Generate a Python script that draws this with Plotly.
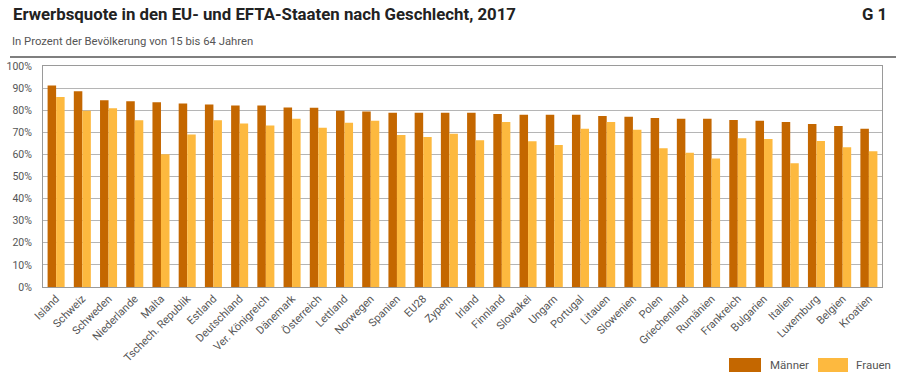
import plotly.graph_objects as go

countries = ["Island", "Schweiz", "Schweden", "Niederlande", "Malta", "Tschech. Republik",
             "Estland", "Deutschland", "Ver. Königreich", "Dänemark", "Österreich", "Lettland",
             "Norwegen", "Spanien", "EU28", "Zypern", "Irland", "Finnland", "Slowakei", "Ungarn",
             "Portugal", "Litauen", "Slowenien", "Polen", "Griechenland", "Rumänien", "Frankreich",
             "Bulgarien", "Italien", "Luxemburg", "Belgien", "Kroatien"]
maenner = [91.2, 88.6, 84.5, 84.1, 83.6, 83.0, 82.6, 82.1, 82.1, 81.2, 81.1, 79.7,
           79.4, 78.8, 78.8, 78.8, 78.8, 78.3, 77.9, 77.9, 77.9, 77.4, 77.0, 76.5,
           76.1, 76.1, 75.6, 75.2, 74.7, 73.8, 72.9, 71.6]
frauen = [86.0, 79.8, 80.9, 75.5, 60.1, 69.0, 75.5, 74.0, 73.1, 76.1, 72.1, 74.3,
          75.2, 68.8, 67.9, 69.4, 66.4, 74.7, 65.9, 64.3, 71.6, 74.7, 71.1, 62.8,
          60.7, 58.1, 67.3, 67.0, 56.0, 66.1, 63.2, 61.4]
y_ticks = [0, 10, 20, 30, 40, 50, 60, 70, 80, 90, 100]
y_labels = [f"{v}%" for v in y_ticks]

C_M = "#C46700"
C_F = "#FDB93F"
FONT = "Roboto"

fig = go.Figure()
fig.add_trace(go.Bar(x=countries, y=maenner, name="Männer", marker_color=C_M, marker_line_width=0))
fig.add_trace(go.Bar(x=countries, y=frauen, name="Frauen", marker_color=C_F, marker_line_width=0))

fig.update_layout(
    width=900, height=374,
    margin=dict(l=43, r=18, t=66, b=87),
    paper_bgcolor="white", plot_bgcolor="white",
    barmode="group", bargap=0.35, bargroupgap=0,
    showlegend=False,
    font=dict(family=FONT, size=10, color="#555555"),
    xaxis=dict(tickangle=-45, tickfont=dict(size=11, color="#555555"), showline=True,
               linecolor="#9a9a9a", linewidth=1, mirror=True, ticks="", automargin=False),
    yaxis=dict(range=[0, 100], tickvals=y_ticks, ticktext=y_labels, showgrid=True,
               gridcolor="#b5b5b5", gridwidth=1, showline=True, linecolor="#9a9a9a",
               linewidth=1, mirror=True, ticks="", tickfont=dict(size=10.5, color="#555555"),
               ticklabelstandoff=8, zeroline=False, automargin=False),
)

def yp(py):
    return (287 - py) / 221

def xp(px):
    return (px - 43) / 839

fig.add_annotation(text="<b>Erwerbsquote in den EU- und EFTA-Staaten nach Geschlecht, 2017</b>",
                   xref="paper", yref="paper", x=xp(11), y=yp(14),
                   xanchor="left", yanchor="middle", showarrow=False,
                   font=dict(family=FONT, size=16.8, color="#222222"))
fig.add_annotation(text="<b>G 1</b>", xref="paper", yref="paper", x=xp(889),
                   y=yp(14), xanchor="right", yanchor="middle", showarrow=False,
                   font=dict(family=FONT, size=16.8, color="#222222"))
fig.add_annotation(text="In Prozent der Bevölkerung von 15 bis 64 Jahren", xref="paper", yref="paper",
                   x=xp(10), y=yp(42), xanchor="left", yanchor="middle",
                   showarrow=False, font=dict(family=FONT, size=11.3, color="#555555"))
# header rule
fig.add_shape(type="line", xref="paper", yref="paper", x0=xp(10), x1=xp(896),
              y0=yp(57), y1=yp(57), line=dict(color="#555555", width=1.5))

# legend swatches
for (x0, x1, tx, label, col) in [(729, 761, 768, "Männer", C_M), (818, 848, 854, "Frauen", C_F)]:
    fig.add_shape(type="rect", xref="paper", yref="paper", x0=xp(x0), x1=xp(x1),
                  y0=yp(372), y1=yp(358), fillcolor=col, line=dict(width=0))
    fig.add_annotation(text=label, xref="paper", yref="paper", x=xp(tx), y=yp(365),
                       xanchor="left", yanchor="middle", showarrow=False,
                       font=dict(family=FONT, size=11.5, color="#555555"))

fig.write_html("out.html", config={"displayModeBar": False},
               post_script="document.body.style.margin='0';document.body.style.overflow='hidden';")
